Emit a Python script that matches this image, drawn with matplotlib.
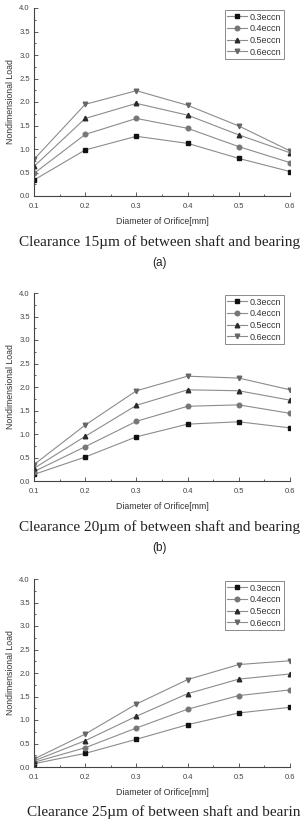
import matplotlib
matplotlib.use("Agg")
import matplotlib.pyplot as plt
from matplotlib.ticker import MultipleLocator

# orifice diameters [mm]
diameters = [0.1, 0.2, 0.3, 0.4, 0.5, 0.6]
series_labels = ["0.3eccn", "0.4eccn", "0.5eccn", "0.6eccn"]

# (a) clearance 15um
load_15 = [
    [0.34, 0.98, 1.27, 1.12, 0.80, 0.52],
    [0.48, 1.31, 1.65, 1.44, 1.05, 0.71],
    [0.63, 1.65, 1.97, 1.72, 1.30, 0.92],
    [0.78, 1.95, 2.24, 1.93, 1.49, 0.96],
]
# (b) clearance 20um
load_20 = [
    [0.14, 0.51, 0.94, 1.21, 1.26, 1.13],
    [0.20, 0.73, 1.27, 1.59, 1.62, 1.44],
    [0.27, 0.95, 1.61, 1.94, 1.92, 1.72],
    [0.35, 1.19, 1.92, 2.23, 2.19, 1.94],
]
# (c) clearance 25um
load_25 = [
    [0.07, 0.29, 0.59, 0.90, 1.15, 1.27],
    [0.10, 0.41, 0.83, 1.23, 1.52, 1.64],
    [0.13, 0.56, 1.08, 1.56, 1.87, 1.98],
    [0.17, 0.70, 1.34, 1.86, 2.18, 2.26],
]

captions = [
    "Clearance 15\u00b5m of between shaft and bearing",
    "Clearance 20\u00b5m of between shaft and bearing",
    "Clearance 25\u00b5m of between shaft and bearin",
]
sub_labels = ["(a)", "(b)", None]

markers = ["s", "o", "^", "v"]
marker_colors = ["#111111", "#777777", "#2a2a2a", "#666666"]
line_color = "#8c8c8c"

W, H = 303, 823
fig = plt.figure(figsize=(W / 100, H / 100), dpi=100)
fig.patch.set_facecolor("white")

sans = ["Liberation Sans", "DejaVu Sans"]
serif = ["Liberation Serif", "DejaVu Serif"]

# pixel geometry of each panel: (axes top, axes bottom, caption y, sublabel y)
panels = [
    (8, 196, 242, 263),
    (293, 481, 527, 548),
    (579, 767, 812, None),
]
ax_left, ax_right = 34, 290

for data, (top, bot, cap_y, sub_y), cap, sub in zip(
        [load_15, load_20, load_25], panels, captions, sub_labels):
    ax = fig.add_axes([ax_left / W, 1 - bot / H, (ax_right - ax_left) / W, (bot - top) / H])
    for vals, lab, m, mc in zip(data, series_labels, markers, marker_colors):
        ax.plot(diameters, vals, color=line_color, lw=0.8, marker=m, ms=3.3,
                mfc=mc, mec=mc, label=lab)
    ax.set_xlim(0.1, 0.6)
    ax.set_ylim(0, 4.0)
    ax.xaxis.set_major_locator(MultipleLocator(0.1))
    ax.xaxis.set_minor_locator(MultipleLocator(0.05))
    ax.yaxis.set_major_locator(MultipleLocator(0.5))
    ax.yaxis.set_minor_locator(MultipleLocator(0.25))
    ax.spines["top"].set_visible(False)
    ax.spines["right"].set_visible(False)
    for s in ("left", "bottom"):
        ax.spines[s].set_color("#444444")
        ax.spines[s].set_linewidth(0.8)
    ax.tick_params(which="both", direction="in", color="#444444", labelsize=5.5,
                   labelcolor="#444444", width=0.6)
    ax.tick_params(which="major", length=3)
    ax.tick_params(axis="x", which="major", pad=5)
    ax.tick_params(axis="y", which="major", pad=3)
    ax.tick_params(which="minor", length=1.5)
    ax.set_xticklabels(["%.1f" % v for v in ax.get_xticks()], family=sans)
    ax.set_yticklabels(["%.1f" % v for v in ax.get_yticks()], family=sans)
    ax.set_xlabel("Diameter of Orifice[mm]", fontsize=6.3, family=sans,
                  color="#333333", labelpad=5)
    ax.set_ylabel("Nondimensional Load", fontsize=6.3, family=sans,
                  color="#333333", labelpad=3)
    leg = ax.legend(loc="upper right", prop={"family": sans, "size": 6.5},
                    frameon=True, fancybox=False, borderpad=0.25, labelspacing=0.3,
                    handlelength=2.2, handletextpad=0.3, borderaxespad=0.25,
                    bbox_to_anchor=(0.985, 1.0))
    leg.get_frame().set_edgecolor("#555555")
    leg.get_frame().set_linewidth(0.6)
    for t in leg.get_texts():
        t.set_color("#333333")

    if sub is not None:
        fig.text(160 / W, 1 - cap_y / H, cap, ha="center", va="center",
                 fontsize=11, family=serif, color="#222222")
        fig.text(160 / W, 1 - sub_y / H, sub, ha="center", va="center",
                 fontsize=8.5, family=sans, color="#222222")
    else:
        fig.text(27 / W, 1 - cap_y / H, cap, ha="left", va="center",
                 fontsize=11, family=serif, color="#222222")

fig.savefig("out.png", dpi=100, facecolor="white")
